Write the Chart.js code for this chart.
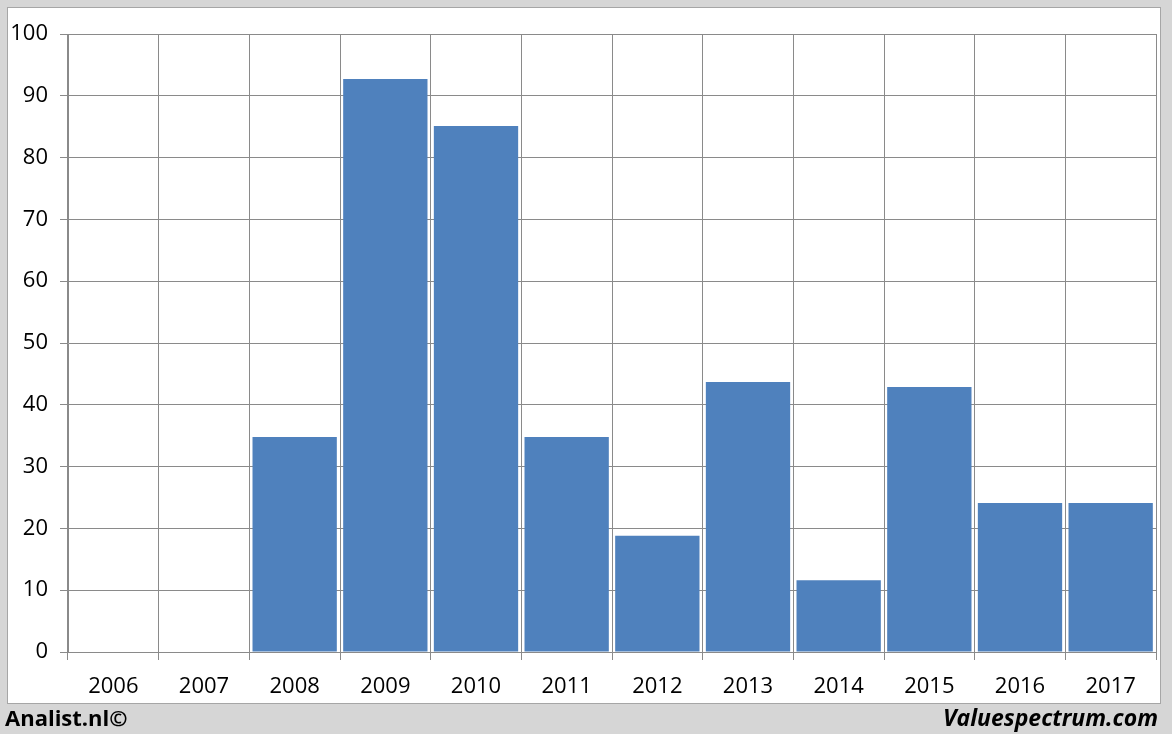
<!DOCTYPE html>
<html>
<head>
<meta charset="utf-8">
<script src="https://cdn.jsdelivr.net/npm/chart.js@4/dist/chart.umd.min.js"></script>
<style>
    html, body { margin: 0; padding: 0; }
    body { width: 1172px; height: 734px; background: #d6d6d6; position: relative; overflow: hidden; font-family: 'Open Sans', sans-serif; }
    #panel { position: absolute; left: 7px; top: 7px; width: 1152px; height: 695px; background: #fff; border: 1px solid #a6a6a6; }
    #chart-box { position: absolute; left: 0; top: 0; width: 1152px; height: 695px; }
    .foot { position: absolute; top: 702px; font-weight: bold; font-size: 22px; color: #000; line-height: 30px; }
    #left-foot { left: 5px; }
    #right-foot { right: 14px; font-style: italic; font-size: 23px; }
</style>
</head>
<body>
<div id="panel">
    <div id="chart-box"><canvas id="chart"></canvas></div>
</div>
<div class="foot" id="left-foot">Analist.nl©</div>
<div class="foot" id="right-foot">Valuespectrum.com</div>
<script>
var years = ['2006', '2007', '2008', '2009', '2010', '2011', '2012', '2013', '2014', '2015', '2016', '2017'];
var values = [0, 0, 34.8, 92.7, 85.1, 34.8, 18.8, 43.7, 11.6, 42.9, 24.1, 24.1];
var yMin = 0, yMax = 100, yStep = 10;

var gridColor = '#8a8a8a';
var tickFont = { family: 'Open Sans', size: 22 };

new Chart(document.getElementById('chart'), {
    type: 'bar',
    data: {
        labels: years,
        datasets: [{
            data: values,
            backgroundColor: '#4f81bd',
            borderWidth: 0,
            categoryPercentage: 1,
            barPercentage: 0.93
        }]
    },
    options: {
        responsive: true,
        maintainAspectRatio: false,
        animation: false,
        layout: { padding: { left: 0, right: 4, top: 26, bottom: 0 } },
        plugins: { legend: { display: false }, tooltip: { enabled: false } },
        scales: {
            x: {
                grid: { color: gridColor, offset: true, tickLength: 8, lineWidth: 1 },
                border: { color: gridColor },
                ticks: { color: '#000', font: tickFont, padding: 14, maxRotation: 0 },
                afterFit: function(scale) { scale.height = 51; }
            },
            y: {
                min: yMin,
                max: yMax,
                grid: { color: gridColor, tickLength: 8 },
                border: { color: gridColor },
                ticks: { color: '#000', font: tickFont, stepSize: yStep, padding: 12 },
                afterFit: function(scale) { scale.width = 60; }
            }
        }
    }
});
</script>
</body>
</html>
